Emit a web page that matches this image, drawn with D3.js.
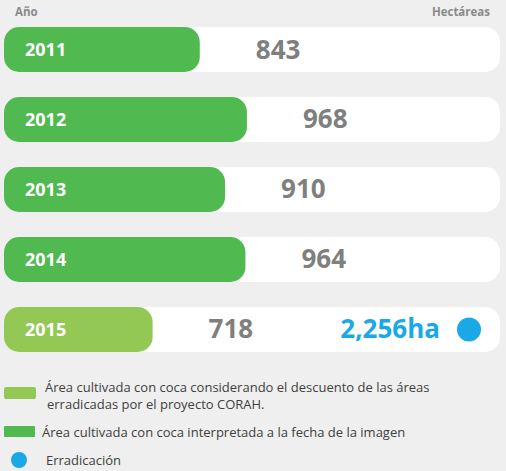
<!DOCTYPE html>
<html>
<head>
<meta charset="utf-8">
<script src="https://cdn.jsdelivr.net/npm/d3@7"></script>
<style>
  body { margin: 0; background: #efefef; }
  svg { display: block; font-family: "Open Sans", sans-serif; }
</style>
</head>
<body>
<script>
const years = ["2011", "2012", "2013", "2014", "2015"];
const hectares = [843, 968, 910, 964, 718];
const discounted = [false, false, false, false, true];
const eradication = [null, null, null, null, 2256];
const legendLabels = [
  ["Área cultivada con coca considerando el descuento de las áreas", "erradicadas por el proyecto CORAH."],
  ["Área cultivada con coca interpretada a la fecha de la imagen"],
  ["Erradicación"]
];

const w = 506, h = 471;
const green = "#50b94f", lightGreen = "#92c853", blue = "#1aa9e6", grey = "#7f7f7f";

const svg = d3.select("body").append("svg")
  .attr("width", w)
  .attr("height", h);

const x = d3.scaleLinear().domain([324, 1000]).range([4, 259]);
const y = d3.scaleBand().domain(years).range([27, 352]).paddingInner(0.357).paddingOuter(0);

svg.append("text")
  .attr("x", 15).attr("y", 16)
  .attr("font-size", 11.5).attr("font-weight", "bold").attr("fill", "#8a8a8a")
  .text("Año");
svg.append("text")
  .attr("x", 490).attr("y", 16)
  .attr("text-anchor", "end")
  .attr("font-size", 11.5).attr("font-weight", "bold").attr("fill", "#8a8a8a")
  .text("Hectáreas");

const rows = svg.selectAll("g.row")
  .data(years)
  .enter()
  .append("g")
  .attr("class", "row")
  .attr("transform", d => "translate(0," + y(d) + ")");

rows.append("rect")
  .attr("x", 4)
  .attr("width", 496)
  .attr("height", y.bandwidth())
  .attr("rx", 15)
  .attr("fill", "#ffffff");

rows.append("rect")
  .attr("x", 4)
  .attr("width", (d, i) => x(hectares[i]) - 4)
  .attr("height", y.bandwidth())
  .attr("rx", 15)
  .attr("fill", (d, i) => discounted[i] ? lightGreen : green);

rows.append("text")
  .attr("x", 25)
  .attr("y", y.bandwidth() / 2 + 6.5)
  .attr("font-size", 18)
  .attr("font-weight", "bold")
  .attr("fill", "#ffffff")
  .text(d => d);

rows.append("text")
  .attr("x", (d, i) => x(hectares[i]) + 56)
  .attr("y", y.bandwidth() / 2 + 9)
  .attr("font-size", 26)
  .attr("font-weight", "bold")
  .attr("fill", grey)
  .text((d, i) => hectares[i]);

rows.filter((d, i) => eradication[i] !== null)
  .append("text")
  .attr("x", 440)
  .attr("y", y.bandwidth() / 2 + 9)
  .attr("text-anchor", "end")
  .attr("font-size", 26)
  .attr("font-weight", "bold")
  .attr("fill", blue)
  .text((d) => d3.format(",")(eradication[years.indexOf(d)]) + "ha");

rows.filter((d, i) => eradication[i] !== null)
  .append("circle")
  .attr("cx", 469)
  .attr("cy", y.bandwidth() / 2)
  .attr("r", 12)
  .attr("fill", blue);

// legend
const legend = svg.append("g").attr("fill", "#404040").attr("font-size", 13);

legend.append("rect")
  .attr("x", 4).attr("y", 387).attr("width", 32).attr("height", 12).attr("rx", 2)
  .attr("fill", lightGreen);
legend.append("text")
  .attr("x", 45).attr("y", 392)
  .text(legendLabels[0][0]);
legend.append("text")
  .attr("x", 47).attr("y", 409)
  .text(legendLabels[0][1]);

legend.append("rect")
  .attr("x", 4).attr("y", 426).attr("width", 31).attr("height", 11).attr("rx", 1)
  .attr("fill", green);
legend.append("text")
  .attr("x", 42).attr("y", 437)
  .text(legendLabels[1][0]);

legend.append("circle")
  .attr("cx", 19).attr("cy", 460).attr("r", 8)
  .attr("fill", blue);
legend.append("text")
  .attr("x", 46).attr("y", 465)
  .text(legendLabels[2][0]);
</script>
</body>
</html>
